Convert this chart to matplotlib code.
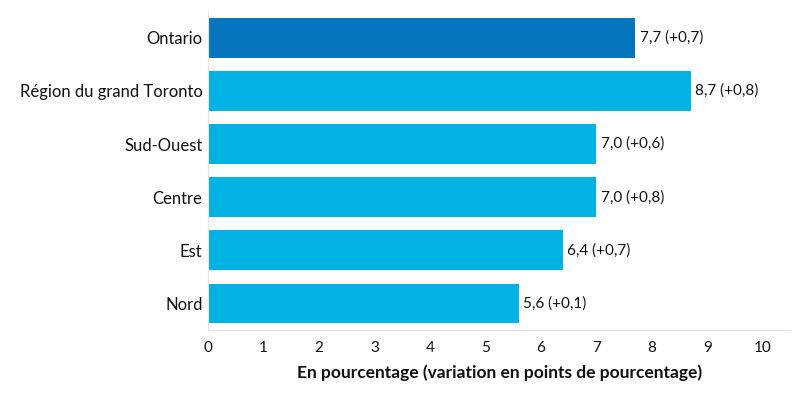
import matplotlib
matplotlib.use("Agg")
import matplotlib.pyplot as plt

plt.rcParams['font.family'] = ['Lato', 'DejaVu Sans']

categories = ["Ontario", "Région du grand Toronto", "Sud-Ouest", "Centre", "Est", "Nord"]
values = [7.7, 8.7, 7.0, 7.0, 6.4, 5.6]
changes = ["+0,7", "+0,8", "+0,6", "+0,8", "+0,7", "+0,1"]
colors = ["#0576BE"] + ["#00B2E3"] * 5
xticks = list(range(0, 11))

fig = plt.figure(figsize=(8, 4), dpi=100)
ax = fig.add_axes([0.26, 0.175, 0.728, 0.797])

y = list(range(len(categories)))
ax.barh(y, values, height=0.75, color=colors, zorder=2)
for yi, v, c in zip(y, values, changes):
    ax.text(v + 0.08, yi, f"{v:.1f}".replace(".", ",") + f" ({c})",
            va="center", ha="left", fontsize=11, color="#111111")

ax.set_yticks(y)
ax.set_yticklabels(categories, fontsize=12, color="#111111")
ax.set_ylim(len(categories) - 0.5, -0.5)
ax.set_xlim(0, 10.5)
ax.set_xticks(xticks)
ax.set_xticklabels([str(t) for t in xticks], fontsize=11, color="#111111")
ax.tick_params(axis="y", length=0, pad=4)
ax.tick_params(axis="x", length=0, pad=8)
for s in ["top", "right"]:
    ax.spines[s].set_visible(False)
ax.spines["left"].set_color("#E6E6E6")
ax.spines["bottom"].set_color("#E6E6E6")
ax.set_xlabel("En pourcentage (variation en points de pourcentage)",
              fontsize=12.5, fontweight="bold", color="#111111", labelpad=7)

fig.savefig("out.png", dpi=100)
